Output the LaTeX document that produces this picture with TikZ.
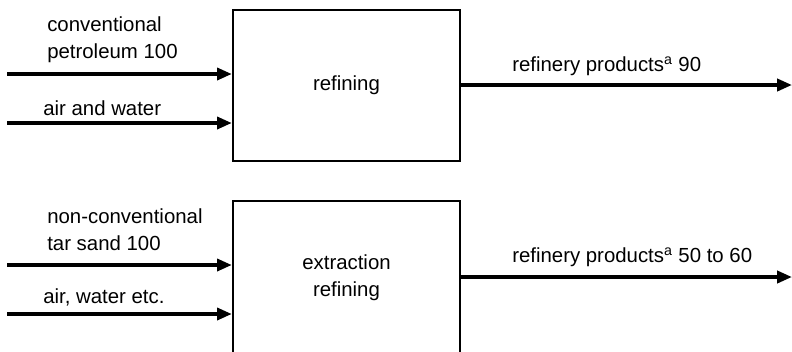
\documentclass[tikz,border=0pt]{standalone}
\usepackage{fontspec}
\setmainfont{Liberation Sans}
\usetikzlibrary{arrows.meta,positioning,calc}

\tikzset{
  procbox/.style={draw,line width=1.6pt,minimum width=5.675cm,minimum height=3.775cm,
    align=center,inner sep=0pt},
  flow/.style={line width=2.5pt,-{Triangle[length=10.5pt,width=8.5pt]}},
  lbl/.style={anchor=west,align=left,inner sep=0pt}
}

\begin{document}
\begin{tikzpicture}[x=0.025cm,y=-0.025cm,font=\fontsize{14.5}{19.2}\selectfont]
  \useasboundingbox (0,0) rectangle (792,351);
  % conventional
  \node[procbox] (ref) at (346.5,85.5) {refining};
  \coordinate (cin1) at (7,74);
  \coordinate (cin2) at (7,123);
  \coordinate (cout) at (792,85);
  \draw[flow] (cin1) -- (cin1 -| ref.west);
  \draw[flow] (cin2) -- (cin2 -| ref.west);
  \draw[flow] (cout -| ref.east) -- (cout);
  \node[lbl] (clab1) at (47,39.5) {conventional\\petroleum 100};
  \node[lbl] (clab2) at (43,108) {air and water};
  \node[lbl] (clab3) at (512,66) {refinery products\textsuperscript{a} 90};
  % non-conventional
  \node[procbox,minimum height=3.85cm] (ext) at (346.5,278) {extraction\\refining};
  \coordinate (nin1) at (7,265);
  \coordinate (nin2) at (7,314);
  \coordinate (nout) at (792,277);
  \draw[flow] (nin1) -- (nin1 -| ext.west);
  \draw[flow] (nin2) -- (nin2 -| ext.west);
  \draw[flow] (nout -| ext.east) -- (nout);
  \node[lbl] (nlab1) at (47,230) {non-conventional\\tar sand 100};
  \node[lbl] (nlab2) at (43,297) {air, water etc.};
  \node[lbl] (nlab3) at (512,257) {refinery products\textsuperscript{a} 50 to 60};
\end{tikzpicture}
\end{document}
